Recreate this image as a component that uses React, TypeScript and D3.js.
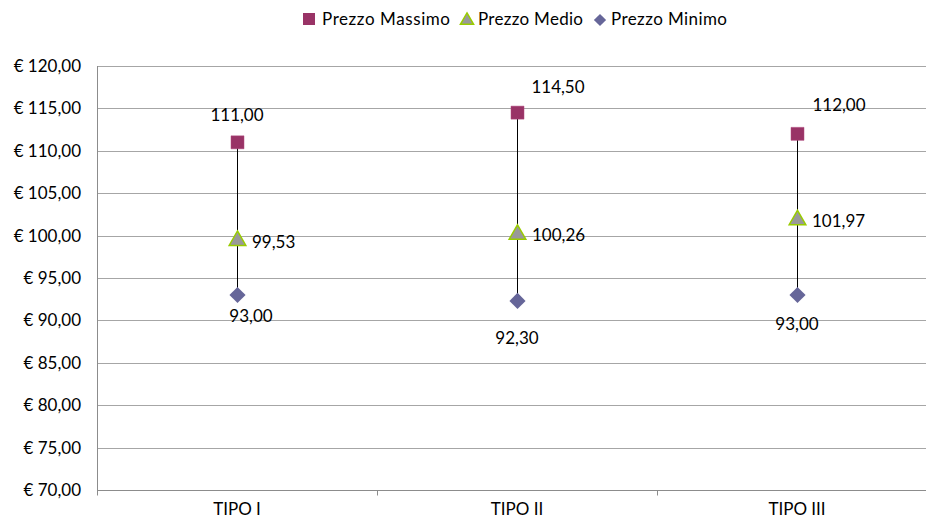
import React from "react";
import * as d3 from "d3";

const categories = ["TIPO I", "TIPO II", "TIPO III"];
const prezzoMassimo = [111.0, 114.5, 112.0];
const prezzoMedio = [99.53, 100.26, 101.97];
const prezzoMinimo = [93.0, 92.3, 93.0];
const yTicks = [70, 75, 80, 85, 90, 95, 100, 105, 110, 115, 120];
const seriesNames = ["Prezzo Massimo", "Prezzo Medio", "Prezzo Minimo"];

const W = 926;
const H = 523;
const M = { left: 97, top: 66, bottom: 33 };
const bandW = 280;

const FONT = "Lato, 'Noto Sans', sans-serif";
const FS = 17;
const C_MAX = "#993366";
const C_MED_FILL = "#999999";
const C_MED_STROKE = "#99CC00";
const C_MIN = "#666699";

// per-point data label nudges (dx, dy) in px
const maxLabelNudge = [[0, -27], [41, -26], [42, -29]];
const minLabelNudge = [[14, 21], [0, 37], [0, 29]];

const fmt = (v: number) => v.toFixed(2).replace(".", ",");

export default function App() {
  const x = d3
    .scaleBand<string>()
    .domain(categories)
    .range([M.left, M.left + bandW * categories.length]);
  const y = d3.scaleLinear().domain([70, 120]).range([H - M.bottom, M.top]);
  const cx = (c: string) => (x(c) as number) + x.bandwidth() / 2;
  const sq = d3.symbol().type(d3.symbolSquare).size(169)();
  const tri = d3.symbol().type(d3.symbolTriangle).size(120)();
  const dia = d3.symbol().type(d3.symbolSquare).size(130)();
  const x0 = M.left + 0.5;
  const y0 = H - M.bottom + 0.5;

  return (
    <svg width={W} height={H} style={{ position: "absolute", left: 0, top: 0, background: "#fff" }}
      fontFamily={FONT}>
      {/* gridlines + y labels */}
      {yTicks.map((t) => (
        <g key={t}>
          <line x1={x0} x2={W} y1={Math.round(y(t)) + 0.5} y2={Math.round(y(t)) + 0.5} stroke="#a6a6a6" strokeWidth={1} />
          <text x={81} y={y(t)} dy="0.35em" textAnchor="end" fontSize={FS} fill="#000">
            {"€ " + fmt(t)}
          </text>
        </g>
      ))}
      {/* axes */}
      <line x1={x0} x2={x0} y1={M.top} y2={y0 + 5} stroke="#8c8c8c" />
      <line x1={x0} x2={W} y1={y0} y2={y0} stroke="#8c8c8c" />
      {categories.map((c) => (
        <g key={c}>
          <line x1={(x(c) as number) + bandW + 0.5} x2={(x(c) as number) + bandW + 0.5} y1={y0} y2={y0 + 5} stroke="#8c8c8c" />
          <text x={cx(c)} y={y0 + 24} textAnchor="middle" fontSize={FS}>{c}</text>
        </g>
      ))}
      {/* high-low lines */}
      {categories.map((c, i) => (
        <line key={c} x1={cx(c) + 0.5} x2={cx(c) + 0.5} y1={y(prezzoMassimo[i])} y2={y(prezzoMinimo[i])}
          stroke="#000" strokeWidth={1} />
      ))}
      {/* markers and labels */}
      {categories.map((c, i) => (
        <g key={c}>
          <path d={sq} transform={`translate(${cx(c) + 0.5},${y(prezzoMassimo[i])})`} fill={C_MAX} stroke="#b04a7e" strokeWidth={0.5} />
          <path d={tri} transform={`translate(${cx(c) + 0.5},${y(prezzoMedio[i]) + 1})`} fill={C_MED_FILL} stroke={C_MED_STROKE} strokeWidth={1.5} />
          <path d={dia} transform={`translate(${cx(c) + 0.5},${y(prezzoMinimo[i])}) rotate(45)`} fill={C_MIN} />
          <text x={cx(c) + maxLabelNudge[i][0]} y={y(prezzoMassimo[i]) + maxLabelNudge[i][1]} dy="0.35em"
            textAnchor="middle" fontSize={FS}>{fmt(prezzoMassimo[i])}</text>
          <text x={cx(c) + 15} y={y(prezzoMedio[i]) + 2} dy="0.35em" fontSize={FS}>{fmt(prezzoMedio[i])}</text>
          <text x={cx(c) + minLabelNudge[i][0]} y={y(prezzoMinimo[i]) + minLabelNudge[i][1]} dy="0.35em"
            textAnchor="middle" fontSize={FS}>{fmt(prezzoMinimo[i])}</text>
        </g>
      ))}
      {/* legend */}
      <g fontSize={FS}>
        <rect x={303} y={13} width={12} height={12} fill={C_MAX} />
        <text x={322} y={19} dy="0.35em" textLength={128} lengthAdjust="spacing">{seriesNames[0]}</text>
        <path d={d3.symbol().type(d3.symbolTriangle).size(75)()} transform="translate(467,20.5)" fill={C_MED_FILL} stroke={C_MED_STROKE} strokeWidth={1.5} />
        <text x={478} y={19} dy="0.35em" textLength={105} lengthAdjust="spacing">{seriesNames[1]}</text>
        <path d={d3.symbol().type(d3.symbolSquare).size(75)()} transform="translate(600,20) rotate(45)" fill={C_MIN} />
        <text x={611} y={19} dy="0.35em" textLength={116} lengthAdjust="spacing">{seriesNames[2]}</text>
      </g>
    </svg>
  );
}
